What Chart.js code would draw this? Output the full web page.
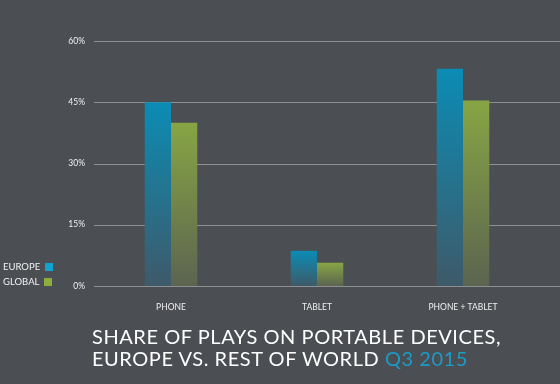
<!DOCTYPE html>
<html>
<head>
<meta charset="utf-8">
<script src="https://cdn.jsdelivr.net/npm/chart.js@4"></script>
<style>
  html, body { margin: 0; padding: 0; background: #4b4e53; }
  #wrap { position: relative; width: 560px; height: 384px; overflow: hidden; }
  #chart { position: absolute; left: 0; top: 0; }
  #legend { position: absolute; left: 3px; top: 262px; font: 9.5px Lato, "Open Sans", sans-serif; color: #f2f2f2; }
  #legend div { height: 15px; line-height: 10px; white-space: nowrap; }
  #legend span.box { display: inline-block; width: 8px; height: 8px; margin-left: 5px; vertical-align: -1px; }
  #title { position: absolute; left: 92px; top: 325px; font: 400 20px Lato, "Open Sans", sans-serif; color: #ffffff; line-height: 22px; letter-spacing: 0.55px; }
  #title .q { color: #1b9cc8; }
</style>
</head>
<body>
<div id="wrap">
  <canvas id="chart" width="560" height="384"></canvas>
  <div id="legend"></div>
  <div id="title">SHARE OF PLAYS ON PORTABLE DEVICES,<br>EUROPE VS. REST OF WORLD <span class="q">Q3 2015</span></div>
</div>
<script>
const categories = ['PHONE', 'TABLET', 'PHONE + TABLET'];
const europe = [45, 8.6, 53.2];
const global = [40, 5.7, 45.4];
const seriesNames = ['EUROPE', 'GLOBAL'];
const yTicks = [0, 15, 30, 45, 60];

const europeTop = '#0b8cb5', europeBottom = '#3e5a69';
const globalTop = '#87a544', globalBottom = '#5c6450';
const legendColors = ['#12a3cf', '#8bae3d'];

function barGradient(top, bottom) { // gradient per bar, from its top to zero
  return function (ctx) {
    const chart = ctx.chart;
    if (!chart.chartArea || ctx.type !== 'data') return top;
    const y = chart.scales.y;
    const y0 = y.getPixelForValue(0);
    const y1 = y.getPixelForValue(ctx.raw);
    if (!isFinite(y1) || y1 === y0) return top;
    const g = chart.ctx.createLinearGradient(0, y1, 0, y0);
    g.addColorStop(0, top);
    g.addColorStop(1, bottom);
    return g;
  };
}

// horizontal grid lines that run past the plot area to the right edge
const gridLines = {
  id: 'gridLines',
  beforeDatasetsDraw(chart) {
    const c = chart.ctx;
    const y = chart.scales.y;
    c.save();
    c.strokeStyle = '#8d8f92';
    c.lineWidth = 1;
    yTicks.forEach(v => {
      const py = Math.round(y.getPixelForValue(v)) + 0.5;
      c.beginPath();
      c.moveTo(94, py);
      c.lineTo(chart.width, py);
      c.stroke();
    });
    c.restore();
  }
};

const chart = new Chart(document.getElementById('chart'), {
  type: 'bar',
  data: {
    labels: categories,
    datasets: [
      { label: seriesNames[0], data: europe, backgroundColor: barGradient(europeTop, europeBottom) },
      { label: seriesNames[1], data: global, backgroundColor: barGradient(globalTop, globalBottom) }
    ]
  },
  options: {
    responsive: false,
    animation: false,
    layout: { padding: { left: 0, right: 24, top: 41, bottom: 68 } },
    datasets: { bar: { categoryPercentage: 0.36, barPercentage: 1, borderWidth: 0 } },
    plugins: { legend: { display: false }, tooltip: { enabled: false } },
    scales: {
      x: {
        grid: { display: false },
        border: { display: false },
        ticks: { color: '#f0f0f0', font: { family: 'Lato', size: 8.5 }, padding: 8 },
        afterFit(scale) { scale.height = 30; }
      },
      y: {
        min: 0, max: 60,
        afterBuildTicks(scale) { scale.ticks = yTicks.map(v => ({ value: v })); },
        grid: { display: false, drawTicks: false },
        border: { display: false },
        ticks: { color: '#f0f0f0', font: { family: 'Lato', size: 8.5 }, padding: 13, callback: v => v + '%' },
        afterFit(scale) { scale.width = 98; }
      }
    }
  },
  plugins: [gridLines]
});

let html = '';
seriesNames.forEach((n, i) => {
  html += `<div>${n}<span class="box" style="background:${legendColors[i]}"></span></div>`;
});
document.getElementById('legend').innerHTML = html;
</script>
</body>
</html>
